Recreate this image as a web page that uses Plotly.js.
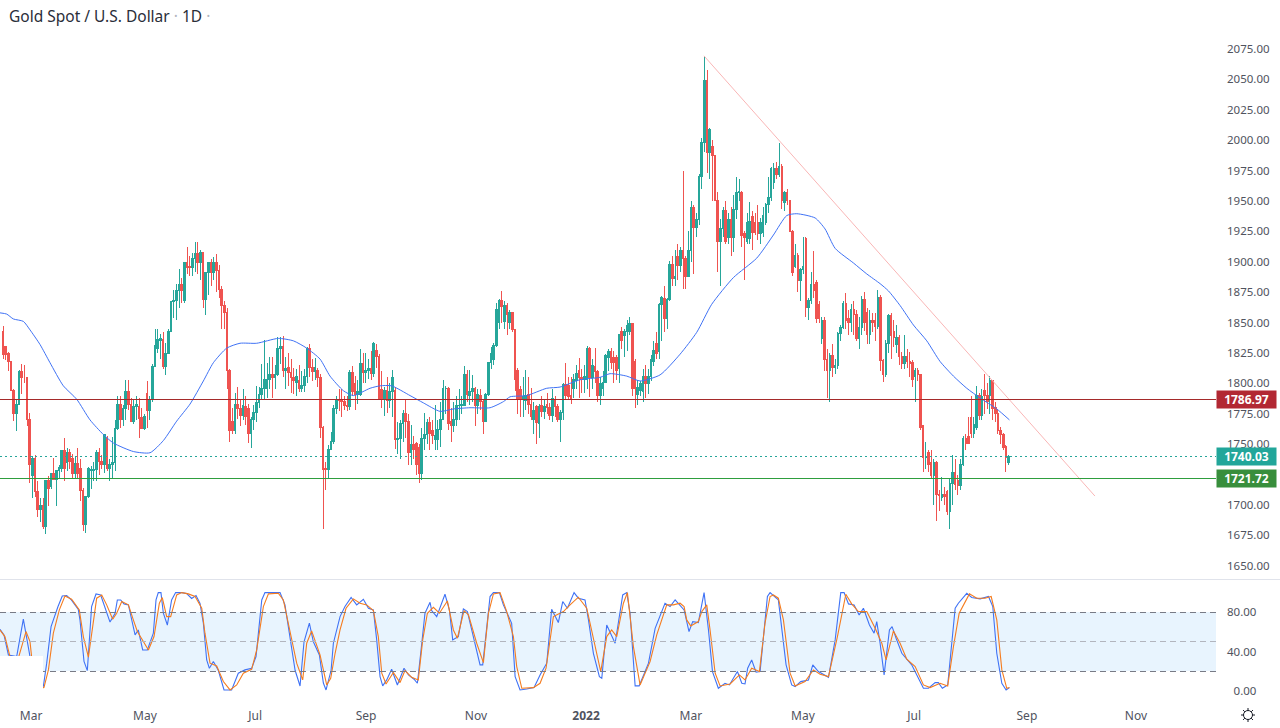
<!DOCTYPE html>
<html><head><meta charset="utf-8">
<script src="https://cdn.plot.ly/plotly-3.0.1.min.js"></script>
<style>html,body{margin:0;padding:0;background:#fff}#chart{width:1280px;height:728px}
.boxlayer path{shape-rendering:crispEdges}
.shapelayer path:not([style*="rgb(19, 23, 34)"]){shape-rendering:crispEdges}
</style>
</head><body><div id="chart"></div>
<script>
const openPrice = [
1843,1830,1825,1818,1794,1775,1783,1810,1805,1805,
1770,1724,1738,1711,1696,1700,1682,1720,1715,1726,
1721,1728,1730,1745,1735,1743,1738,1726,1734,1730,
1712,1684,1707,1728,1728,1729,1743,1736,1733,1755,
1730,1733,1735,1763,1783,1770,1779,1793,1783,1769,
1781,1781,1772,1763,1792,1778,1787,1814,1829,1835,
1836,1814,1825,1843,1867,1868,1876,1881,1868,1899,
1896,1895,1903,1907,1899,1908,1869,1891,1899,1891,
1899,1893,1877,1864,1858,1811,1769,1761,1783,1779,
1774,1781,1779,1759,1770,1776,1784,1791,1796,1796,
1803,1807,1805,1807,1829,1830,1811,1813,1809,1805,
1801,1802,1796,1798,1806,1829,1813,1810,1811,1805,
1764,1730,1729,1746,1752,1779,1787,1786,1785,1782,
1781,1809,1800,1791,1791,1816,1809,1811,1812,1808,
1827,1822,1795,1787,1794,1786,1793,1794,1754,1755,
1767,1775,1769,1743,1750,1751,1747,1726,1755,1758,
1768,1761,1754,1754,1762,1770,1796,1796,1769,1765,
1770,1782,1782,1782,1807,1790,1793,1796,1782,1790,
1785,1769,1791,1817,1820,1831,1850,1868,1851,1864,
1850,1858,1844,1811,1795,1787,1786,1791,1783,1770,
1781,1767,1782,1777,1783,1780,1774,1787,1781,1770,
1776,1799,1798,1790,1796,1802,1811,1805,1803,1803,
1829,1805,1814,1810,1790,1796,1801,1821,1826,1821,
1821,1812,1843,1839,1843,1843,1849,1818,1791,1794,
1793,1806,1800,1806,1818,1833,1826,1865,1870,1853,
1869,1898,1886,1904,1897,1909,1903,1888,1909,1945,
1928,1935,1970,1998,2049,1990,1995,1987,1950,1917,
1927,1942,1920,1935,1920,1943,1957,1957,1923,1917,
1919,1937,1932,1932,1923,1924,1932,1947,1953,1965,
1977,1972,1978,1949,1957,1950,1925,1896,1905,1885,
1894,1919,1862,1868,1881,1883,1865,1837,1852,1820,
1811,1823,1813,1815,1841,1846,1866,1853,1850,1861,
1857,1837,1846,1869,1858,1840,1852,1852,1847,1871,
1819,1807,1833,1856,1843,1832,1838,1822,1816,
1822,1818,1817,1806,1811,1807,1765,1739,1743,
1735,1724,1735,1709,1706,1709,1711,1695,1718,1727,
1720,1716,1733,1755,1756,1772,1759,1764,1790,1774,
1794,1790,1790,1802,1780,1775,1761,1758,1748,
1735];
const highPrice = [
1847,1831,1826,1818,1795,1786,1811,1816,1815,1805,
1776,1740,1741,1720,1706,1706,1720,1724,1726,1739,
1728,1733,1745,1755,1747,1746,1742,1740,1747,1738,
1714,1707,1731,1732,1735,1745,1747,1741,1758,1757,
1738,1756,1770,1790,1790,1782,1803,1803,1788,1787,
1790,1788,1780,1775,1802,1790,1816,1845,1845,1841,
1842,1833,1845,1868,1877,1882,1894,1887,1900,1912,
1905,1907,1916,1916,1910,1908,1892,1900,1902,1904,
1906,1897,1880,1868,1862,1812,1780,1792,1797,1787,
1795,1790,1783,1772,1782,1798,1797,1816,1836,1817,
1822,1822,1815,1838,1838,1839,1822,1825,1820,1813,
1812,1815,1810,1812,1830,1832,1820,1821,1813,1808,
1765,1735,1749,1760,1782,1790,1795,1795,1790,1790,
1811,1814,1806,1803,1828,1825,1825,1820,1827,1834,
1832,1824,1810,1797,1805,1800,1811,1797,1768,1770,
1778,1786,1775,1766,1757,1752,1750,1763,1776,1771,
1772,1770,1782,1770,1785,1803,1798,1797,1780,1785,
1790,1795,1790,1814,1811,1811,1807,1797,1795,1795,
1787,1792,1818,1830,1833,1866,1869,1876,1868,1866,
1860,1859,1845,1813,1798,1805,1811,1805,1796,1785,
1782,1783,1790,1787,1792,1784,1795,1790,1783,1778,
1800,1817,1805,1805,1808,1815,1821,1812,1815,1831,
1830,1820,1829,1811,1805,1810,1824,1828,1829,1827,
1823,1840,1846,1845,1852,1855,1850,1820,1803,1802,
1812,1815,1812,1823,1835,1842,1866,1872,1880,1870,
1901,1905,1910,1915,1912,1975,1905,1925,1950,1947,
1940,1972,2002,2069,2058,2010,2000,1988,1957,1935,
1945,1950,1940,1945,1955,1970,1968,1958,1925,1940,
1949,1942,1940,1947,1936,1945,1948,1970,1978,1981,
1982,1998,1980,1958,1960,1951,1926,1915,1907,1895,
1920,1920,1870,1892,1909,1885,1868,1855,1855,1828,
1825,1832,1820,1842,1848,1868,1874,1860,1865,1868,
1860,1855,1872,1875,1862,1860,1858,1858,1877,1873,
1820,1836,1857,1858,1852,1848,1840,1826,1840,
1828,1826,1819,1813,1813,1808,1766,1752,1745,
1745,1738,1736,1712,1723,1715,1712,1722,1741,1738,
1725,1738,1757,1758,1772,1790,1772,1798,1792,1795,
1808,1800,1806,1803,1785,1778,1764,1759,1749,
1741];
const lowPrice = [
1820,1819,1810,1794,1769,1761,1783,1791,1800,1765,
1718,1706,1707,1690,1686,1680,1676,1699,1713,1721,
1699,1722,1727,1720,1728,1730,1722,1722,1722,1703,
1679,1677,1706,1713,1720,1720,1725,1730,1726,1728,
1720,1722,1728,1762,1763,1765,1770,1778,1768,1767,
1770,1755,1763,1762,1763,1770,1785,1814,1825,1820,
1812,1807,1824,1842,1854,1852,1862,1866,1866,1890,
1888,1888,1892,1890,1885,1862,1856,1873,1880,1885,
1875,1870,1845,1845,1795,1752,1758,1758,1771,1765,
1770,1766,1751,1747,1762,1768,1780,1787,1787,1788,
1795,1788,1795,1806,1816,1805,1795,1798,1792,1791,
1790,1793,1793,1793,1800,1805,1802,1803,1797,1755,
1680,1712,1722,1745,1750,1775,1777,1772,1778,1777,
1778,1790,1778,1783,1790,1800,1800,1804,1803,1805,
1813,1786,1780,1773,1776,1780,1772,1746,1742,1738,
1752,1755,1733,1733,1738,1725,1718,1721,1745,1750,
1745,1750,1745,1745,1748,1770,1775,1762,1752,1760,
1765,1770,1775,1782,1785,1782,1785,1765,1775,1778,
1758,1768,1790,1812,1815,1830,1845,1850,1845,1840,
1845,1842,1794,1775,1772,1772,1778,1775,1770,1758,
1750,1755,1772,1771,1775,1770,1768,1772,1768,1752,
1770,1787,1787,1783,1788,1795,1788,1792,1792,1795,
1789,1795,1800,1785,1782,1790,1800,1810,1812,1800,
1803,1800,1828,1822,1827,1840,1790,1780,1782,1790,
1785,1788,1791,1802,1814,1820,1820,1835,1842,1845,
1868,1880,1880,1885,1892,1878,1878,1888,1900,1890,
1920,1930,1960,1990,1973,1968,1950,1950,1892,1880,
1920,1915,1915,1905,1908,1935,1950,1912,1885,1915,
1915,1910,1922,1918,1915,1920,1930,1940,1950,1960,
1968,1970,1943,1942,1947,1925,1888,1895,1875,1868,
1890,1855,1852,1865,1870,1850,1850,1832,1810,1788,
1785,1805,1808,1812,1835,1845,1845,1840,1842,1840,
1835,1828,1840,1843,1832,1832,1842,1835,1845,1810,
1801,1805,1825,1820,1830,1825,1815,1812,1812,
1813,1805,1797,1785,1802,1762,1727,1730,1727,
1722,1700,1687,1695,1703,1700,1692,1680,1700,1712,
1708,1712,1732,1745,1750,1755,1755,1762,1770,1770,
1775,1779,1775,1770,1768,1758,1750,1745,1727,
1733];
const closePrice = [
1824,1824,1818,1794,1775,1783,1810,1805,1805,1770,
1733,1738,1711,1696,1700,1682,1720,1714,1726,1721,
1728,1731,1745,1730,1743,1736,1726,1734,1726,1712,
1684,1707,1730,1729,1729,1743,1736,1733,1758,1730,
1733,1735,1763,1783,1770,1779,1793,1783,1769,1781,
1783,1771,1763,1773,1778,1787,1814,1831,1836,1837,
1814,1825,1843,1867,1868,1876,1881,1876,1899,1895,
1895,1903,1907,1899,1908,1869,1891,1899,1891,1899,
1893,1877,1864,1858,1811,1761,1761,1783,1779,1774,
1782,1773,1759,1770,1776,1784,1791,1796,1803,1803,
1807,1805,1807,1829,1830,1811,1812,1809,1805,1802,
1806,1796,1798,1806,1829,1813,1810,1813,1805,1764,
1729,1729,1746,1752,1779,1787,1786,1785,1782,1781,
1809,1793,1791,1793,1816,1809,1811,1812,1808,1833,
1822,1788,1788,1794,1786,1793,1805,1754,1755,1767,
1775,1769,1743,1750,1746,1733,1726,1755,1758,1768,
1759,1757,1757,1762,1770,1796,1796,1767,1765,1770,
1782,1782,1783,1807,1791,1793,1796,1782,1791,1785,
1769,1791,1817,1825,1831,1861,1868,1863,1864,1857,
1858,1844,1803,1788,1787,1789,1790,1783,1773,1778,
1768,1781,1777,1781,1780,1774,1788,1781,1770,1776,
1799,1790,1789,1788,1803,1808,1805,1803,1806,1829,
1805,1815,1810,1790,1800,1801,1823,1826,1817,1817,
1811,1840,1835,1843,1848,1849,1796,1796,1797,1800,
1806,1800,1806,1820,1827,1825,1865,1871,1853,1869,
1898,1886,1888,1897,1909,1903,1888,1909,1945,1928,
1935,1970,1998,2049,1990,2009,1987,1950,1917,1927,
1942,1917,1935,1920,1943,1957,1958,1922,1920,1932,
1933,1924,1924,1923,1932,1938,1947,1953,1977,1977,
1972,1978,1950,1957,1950,1925,1891,1905,1885,1894,
1896,1862,1868,1881,1876,1853,1853,1852,1820,1811,
1823,1813,1815,1841,1846,1866,1852,1850,1861,1857,
1837,1846,1869,1850,1840,1852,1850,1847,1871,1819,
1807,1833,1856,1839,1838,1838,1822,1816,1822,
1818,1816,1803,1811,1807,1764,1739,1740,1733,
1724,1735,1709,1708,1709,1707,1695,1718,1727,1717,
1716,1733,1755,1751,1751,1759,1766,1790,1774,1789,
1790,1785,1802,1779,1775,1761,1758,1747,1739,
1740.03];
if (new Set([openPrice.length,highPrice.length,lowPrice.length,closePrice.length]).size!==1)
  throw new Error('lengths '+[openPrice.length,highPrice.length,lowPrice.length,closePrice.length]);
const barIndex = closePrice.map((_, i) => i + 0.4);

const maBar = [-0.75,1.75,4.25,8,10.5,14.25,18,23,28,33,38,41.75,49.25,55.5,60.5,65.5,70.5,75.5,79.25,84.25,89.25,95.5,103.6,109.25,114.25,119.25,123,128,131.75,138,141.75,146.1,153,158,164.25,169.25,175.5,183,188,190.5,196.75,204.25,209.25,216.75,224.25,228,234.25,239.25,246.75,254.25,260.5,266.1,274.25,283,289.25,294.25,298,304.9,308.6,312.4,319.25,324.25,329.25,332.4,336.75,341.75,346.75,351.75,356.75,361.75,366.75,373,377.75];
const maValue = [1858,1857,1853,1851,1844,1832,1817,1798,1787,1770,1758,1751,1744,1743,1753,1769,1783,1802,1817,1829,1833,1833,1837,1835,1829,1820,1806,1794,1790,1796,1798,1798,1790,1784,1777,1779,1780,1780,1785,1789,1790,1796,1797,1803,1805,1808,1806,1802,1807,1824,1842,1865,1887,1903,1922,1938,1939.5,1936,1927,1911,1899,1890,1882,1876,1864,1848,1835,1818,1806,1796,1788,1779,1770];

const kBar = [-0.75,0.75,2.4,5.5,8,10.5,13,15.5,16.75,18.4,21,22.6,24.25,26,28.6,29.25,30.75,32,33.6,35.25,37,38.6,40.5,42.4,43.25,44.5,45.75,47.4,48.6,49.9,51.1,52.75,54.5,56.75,57.75,58.6,59.6,60.5,62,63.6,65.1,67.4,69.25,71.1,72.75,74.25,75.5,76.75,77.75,79.25,81.1,83.25,86.1,88.6,91.1,93.6,95.25,97.4,98.6,101.1,104.25,106.1,108,109.9,111.75,113.25,115.25,116.75,119,120.5,121.5,123.4,124.25,126.75,
128.6,130.9,133,135.5,137.4,139.25,140.5,141.75,142.75,144.25,146.1,148.25,150.75,152.4,154.5,155.75,157,158.6,160.5,161.1,163,166.1,167.75,169,171.1,173,174.5,176.75,179.25,180.25,181.75,183,184.25,186.5,188,191.1,192.4,194.25,196.75,199.5,201.75,204.25,206.1,208.6,210.25,212,214.5,216.1,218.6,219.9,221.75,224,224.9,226.75,229.9,232.75,234.25,235.5,237.4,238.9,242.4,244.9,248.6,250.5,252.4,254.25,
255.75,257.6,259,261.1,263.25,264.9,266.4,268.6,271.1,272.75,275.75,277.4,278.6,279.6,281.1,282.75,284.25,287,288,289.9,291.1,294,296.1,297.4,299.5,302.4,304,306.1,309.9,312.4,314.5,315.75,317.4,319.5,321.4,323,325.25,327,328,329.25,330.75,332.75,333.75,335.25,337.4,341.1,345.5,347.4,349.9,351.1,352.6,354.6,357.4,358.6,361.75,363.6,366.75,369.9,371.5,373,374.9,376.5,377.75];
const kValue = [62.7,57,36.6,35,73,35,11,4.4,28,65.4,85.8,96.6,97,92.5,83,72,30,20.7,85.8,98.6,97.6,84,70,79,92.5,92.5,88.5,87.5,72,57,62,41.7,41.7,58.7,92.5,100,100,79,67,92.5,100,100,99,94,97,89,69,31.5,23,30,21,1,1,18,21.4,23,35,92.5,100,100,100,87.5,55,21,5,50,69,50,36.6,8,1,21,48.5,75.6,
85.8,95,87.5,93.2,84.1,82.4,51.9,14.6,5.1,11.2,22,6.1,23.1,16.3,11.9,7.8,38.3,79,90.2,81.7,75.6,98.3,82.4,51.9,55.3,83.4,80.7,55.3,26.5,26.5,62,96,100,100,87.5,68.8,14.6,1,2,3.4,16.3,28.2,83,69.5,90.9,84.1,100,94.3,92.6,72.2,38.3,14.6,12.9,67.1,48.5,97.6,100,79,5.1,5.1,28.2,63.7,89.2,85.8,92.6,87.5,
82.4,60.4,70.5,69.5,100,62,19.7,2.7,7.8,6.1,19.7,7.8,7.1,23.1,31.5,19,19.7,96,100,95.3,92.6,26.5,6.1,4.4,9.5,11.2,26.5,19.7,13.9,51.9,100,100,88.5,87.5,77.3,84.1,67.1,58.7,70.5,48.5,16.3,62,65.4,53.6,38.3,26.5,2.7,2.7,8.5,8.5,2.7,6.1,84.1,89.2,99.3,95,93.6,96,85.8,38.3,7.8,1,3.4];

const dBar = [-0.75,1.1,3,6.1,9,10.5,11.1,14.25,15.75,17.4,19.25,21.5,23.6,26.1,29,30.5,32.4,33.25,35.5,37.4,39.25,41.5,43,44.9,47.4,49.25,50.75,53,54.9,57,59,60.1,61.75,63.25,65.5,67.4,69.9,72.4,74.9,76.1,78,80.5,83,85.5,88,90.5,93.6,95.5,98,99.9,103.6,105.5,108,110.5,112.75,114.25,116.1,119.25,121.75,123.25,124.9,126.75,
129,131.75,134.25,136.75,139.25,141.1,142.4,144,146.75,149.25,151.1,153.6,156.1,157.75,159.5,161.75,164,167,169.25,170.75,173.25,174.9,178,180.5,182.4,184.25,186.75,189.25,191.75,193,194.9,199.25,201.75,204,206.75,208,210.5,213,216.1,219.25,221.75,224.5,226.75,228.6,230.5,233,234.5,236.75,239.25,243,245.5,249.25,251.75,254.25,
255.75,256.75,258.25,261.1,262.4,264.25,265.5,267.4,269.25,273,276.5,278.6,281.1,284,286.1,288,289.25,291.1,293,295.5,297.4,301.1,304.25,306.75,309.9,313.25,316.4,318.6,321.1,324.25,327.4,329.9,331.5,334.25,336.75,339.25,342.4,345.5,348,351.75,354.6,356.75,358.9,362.75,365.5,368.6,370.9,373,374.9,376.75,377.75];
const dValue = [62,55.3,34.9,33.2,60.4,50.2,34.9,1.7,3.7,21.4,58.7,82.4,96.6,93.2,82.4,55.3,34.3,51.9,94.3,97.6,87.5,72.9,79,90.9,87.5,72.2,60.4,50.2,41.7,55.3,89.2,95,75.6,75.6,97.6,100,98.7,96,84.1,58.7,28.2,25.4,9.5,1,6.1,18,22,41.7,85.8,98.7,99.3,92.6,62,28.2,11.2,48.5,61,36.6,6.1,12.9,38.3,62,
84.1,93.6,89.2,87.5,81.7,55.3,18,7.1,18.7,8.5,20.7,13.9,11.2,51.9,79,85.1,79,91.5,62,53.6,81.7,77.3,48.5,28.8,79,98.7,100,80.7,55.3,24.8,2.7,3.4,7.8,23.1,75.6,77.3,80.7,87.5,95.3,84.1,51.9,19.7,55.3,62,55.3,89.2,100,45.1,6.1,29.8,57,87.5,87.5,89.2,
85.8,72.2,66.1,70.5,80.7,87.5,62,18,5.1,7.1,16.3,11.2,23.1,19.7,68.8,96,97.6,94.3,72.2,18,5.1,9.5,21.4,17,14.6,55.3,98.3,88.5,80.7,80.7,63.7,48.5,31.5,61,48.5,32.2,24.8,6.1,3.4,7.8,5.1,45.1,79,98.7,94.3,94.3,96,72.2,21.4,2.7,3.4];

const trendBar = [263.2, 409.8];
const trendPrice = [2069.3, 1707.4];
const resistance = 1786.97, support = 1721.72, lastPrice = 1740.03;

const timeTickBar = [10.9,53.6,94.9,136.5,177.7,219,258.3,300.3,342,384.3,425.2];
const timeTickText = ['Mar','May','Jul','Sep','Nov','<b>2022</b>','Mar','May','Jul','Sep','Nov'];
const priceTicks = [1650,1675,1700,1750,1775,1800,1825,1850,1875,1900,1925,1950,1975,2000,2025,2050,2075];
const oscTicks = [0,40,80];
const oscTickText = ['\u20070.00','40.00','80.00'];

const FONT = '"Noto Sans", sans-serif';
const TXT = '#50535e';
const xRange = [-0.75, 455.2];
const plotW = 1216, plotH = 705;
const px = x => x / plotW, py = y => (plotH - y) / plotH;

const traces = [
  {type:'candlestick', x:barIndex, open:openPrice, high:highPrice, low:lowPrice, close:closePrice,
   xaxis:'x', yaxis:'y', hoverinfo:'skip', whiskerwidth:0,
   increasing:{line:{color:'#26a69a',width:1}, fillcolor:'#26a69a'},
   decreasing:{line:{color:'#ef5350',width:1}, fillcolor:'#ef5350'}},
  {type:'scatter', mode:'lines', x:maBar, y:maValue, xaxis:'x', yaxis:'y', hoverinfo:'skip',
   line:{color:'#3f72f5',width:1,shape:'spline',smoothing:0.6}},
  {type:'scatter', mode:'lines', x:trendBar, y:trendPrice, xaxis:'x', yaxis:'y', hoverinfo:'skip',
   line:{color:'#f9b6b6',width:1}},
  {type:'scatter', mode:'lines', x:kBar, y:kValue, xaxis:'x2', yaxis:'y2', hoverinfo:'skip',
   line:{color:'#3f72f5',width:1.1}},
  {type:'scatter', mode:'lines', x:dBar, y:dValue, xaxis:'x2', yaxis:'y2', hoverinfo:'skip',
   line:{color:'#f57c1f',width:1.1}}
];

function hline(yref, v, color, dash, width){
  return {type:'line', xref:'paper', x0:0, x1:1, yref, y0:v, y1:v, line:{color, width:width||1, dash:dash||'solid'}};
}
const gearSpokes = [];
for (let k = 0; k < 8; k++) {
  const a = k * Math.PI / 4;
  gearSpokes.push('M' + px(1248 + 4.5*Math.cos(a)) + ',' + py(715 + 4.5*Math.sin(a)) + 'L' + px(1248 + 7*Math.cos(a)) + ',' + py(715 + 7*Math.sin(a)));
}
const shapes = [
  {type:'rect', layer:'below', xref:'paper', x0:0, x1:1, yref:'y2', y0:20, y1:80, fillcolor:'rgba(33,150,243,0.1)', line:{width:0}},
  hline('y2',80,'#787b86','6px,4px'),
  hline('y2',50,'#b2b5be','6px,4px'),
  hline('y2',20,'#787b86','6px,4px'),
  {type:'rect', layer:'above', xref:'x2', x0:-0.75, x1:15.4, yref:'y2', y0:-14.3, y1:35.5, fillcolor:'#ffffff', line:{width:0}},
  hline('y',resistance,'#a52a2a'),
  hline('y',support,'#2e9e3e'),
  hline('y',lastPrice,'#26a69a','2px,3px'),
  {type:'line', xref:'paper', x0:0, x1:1280/plotW, yref:'paper', y0:py(579.5), y1:py(579.5), line:{color:'#e0e3eb',width:1}},
  {type:'circle', xref:'paper', yref:'paper', x0:px(1243.5), x1:px(1252.5), y0:py(710.5), y1:py(719.5), line:{color:'#131722',width:1}},
  {type:'path', xref:'paper', yref:'paper', path:gearSpokes.join(''), line:{color:'#131722',width:1}}
];

function tag(v, text, color){
  return {xref:'paper', x:1, xanchor:'left', yref:'y', y:v, yanchor:'middle', text:'<b>'+text+'</b>', showarrow:false,
          bgcolor:color, width:59, height:17, borderpad:0, align:'center', font:{family:FONT,size:12,color:'#fff'}};
}
const annotations = [
  tag(resistance,'1786.97','#b22833'),
  tag(lastPrice,'1740.03','#22a69a'),
  tag(support,'1721.72','#388e3c'),
  {xref:'paper', yref:'paper', x:px(7), y:py(16), xanchor:'left', yanchor:'middle', showarrow:false, align:'left',
   font:{family:FONT,size:15.5,color:'#2a2e39'},
   text:'Gold Spot / U.S. Dollar <span style="color:#b2b5be">·</span> 1D <span style="color:#b2b5be">·</span>'}
];

const layout = {
  width:1280, height:728, paper_bgcolor:'#fff', plot_bgcolor:'rgba(0,0,0,0)', showlegend:false,
  margin:{l:0, r:64, t:0, b:23, pad:0}, boxgap:0.12, dragmode:false, hovermode:false,
  font:{family:FONT, size:12, color:TXT},
  xaxis:{domain:[0,1], range:xRange, anchor:'y', showticklabels:false, showgrid:false, zeroline:false, showline:false, ticks:'', rangeslider:{visible:false}},
  xaxis2:{domain:[0,1], range:xRange, anchor:'y2', tickmode:'array', tickvals:timeTickBar, ticktext:timeTickText,
          showgrid:false, zeroline:false, showline:false, ticks:'', tickangle:0, ticklabelstandoff:2, tickfont:{family:FONT,size:12,color:TXT}},
  yaxis:{domain:[126/705,1], range:[1639.2,2115.2], side:'right', anchor:'x', tickmode:'array', tickvals:priceTicks, tickformat:'.2f',
         showgrid:false, zeroline:false, showline:false, ticks:'', ticklabelstandoff:10, tickfont:{family:FONT,size:11.5,color:TXT}},
  yaxis2:{domain:[0,125/705], range:[-14.3,112.8], side:'right', anchor:'x2', tickmode:'array', tickvals:oscTicks, ticktext:oscTickText,
         showgrid:false, zeroline:false, showline:false, ticks:'', ticklabelstandoff:10, tickfont:{family:FONT,size:11.5,color:TXT}},
  shapes, annotations
};
Plotly.newPlot('chart', traces, layout, {staticPlot:true, displayModeBar:false});
</script></body></html>
